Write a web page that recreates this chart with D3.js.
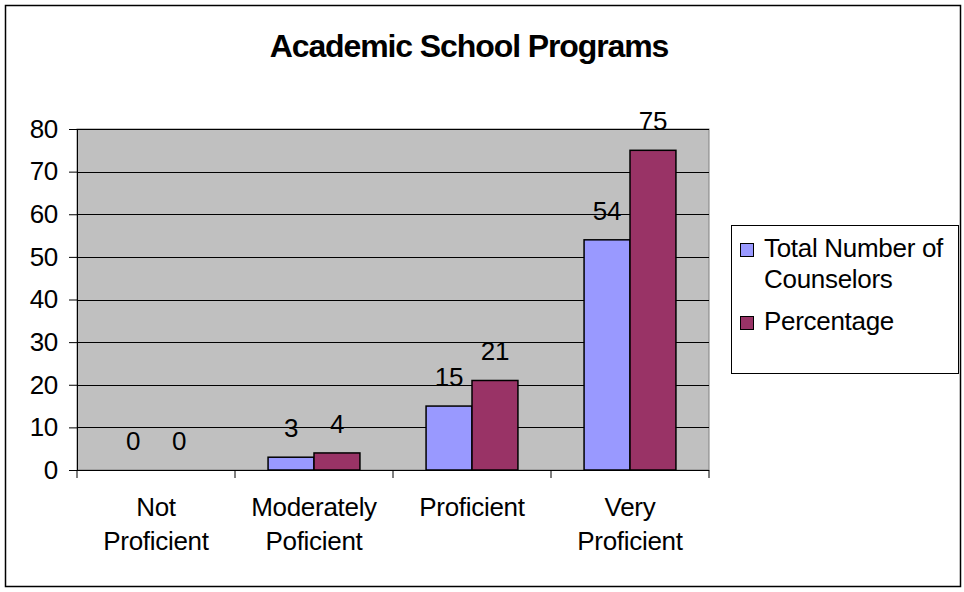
<!DOCTYPE html>
<html>
<head>
<meta charset="utf-8">
<script src="https://cdn.jsdelivr.net/npm/d3@7"></script>
<style>
  body { margin: 0; background: #fff; }
  text { font-family: "Liberation Sans", Arial, sans-serif; fill: #000; }
</style>
</head>
<body>
<svg id="chart" width="964" height="592"></svg>
<script>
const categories = [["Not", "Proficient"], ["Moderately", "Poficient"], ["Proficient"], ["Very", "Proficient"]];
const seriesNames = ["Total Number of Counselors", "Percentage"];
const counselors = [0, 3, 15, 54];
const percentage = [0, 4, 21, 75];
const yTicks = [0, 10, 20, 30, 40, 50, 60, 70, 80];
const colors = ["#9999FF", "#993366"];
const title = "Academic School Programs";

const svg = d3.select("#chart");
const FS = 26, LS = -0.3;

// outer border
svg.append("rect").attr("x", 5.5).attr("y", 5.5).attr("width", 955).attr("height", 581)
  .attr("fill", "#fff").attr("stroke", "#000").attr("stroke-width", 1.5);

const plot = { left: 77, right: 709, top: 129, bottom: 470 };
const catIdx = categories.map((d, i) => i);
const x = d3.scaleBand().domain(catIdx).range([plot.left, plot.right]).paddingInner(0).paddingOuter(0);
const x1 = d3.scaleBand().domain([0, 1]).range([0, x.bandwidth()]).paddingInner(0).paddingOuter(0.72);
const y = d3.scaleLinear().domain([0, 80]).range([plot.bottom, plot.top]);

// plot background
svg.append("rect").attr("x", plot.left).attr("y", plot.top)
  .attr("width", plot.right - plot.left).attr("height", plot.bottom - plot.top)
  .attr("fill", "#C0C0C0").attr("stroke", "#808080").attr("stroke-width", 1);

// gridlines
svg.append("g").selectAll("line").data(yTicks.filter(t => t > 0)).join("line")
  .attr("x1", plot.left).attr("x2", plot.right)
  .attr("y1", d => Math.round(y(d)) + 0.5).attr("y2", d => Math.round(y(d)) + 0.5)
  .attr("stroke", "#000").attr("stroke-width", 1);

// y axis
const yAxis = d3.axisLeft(y).tickValues(yTicks).tickSize(8).tickPadding(11);
const gy = svg.append("g").attr("transform", `translate(${plot.left},0)`).call(yAxis);
gy.select(".domain").attr("stroke", "#000");
gy.selectAll(".tick line").attr("stroke", "#000");
gy.selectAll(".tick text").attr("font-size", FS).attr("letter-spacing", LS)
  .style("font-family", '"Liberation Sans", Arial, sans-serif').attr("fill", "#000");

// x axis
const gx = svg.append("g").attr("transform", `translate(0,${plot.bottom})`);
gx.append("line").attr("x1", plot.left).attr("x2", plot.right).attr("y1", 0.5).attr("y2", 0.5).attr("stroke", "#000");
const boundaries = catIdx.map(i => x(i)).concat([plot.right]);
gx.selectAll("line.tk").data(boundaries).join("line").attr("class", "tk")
  .attr("x1", d => d).attr("x2", d => d).attr("y1", 0).attr("y2", 8).attr("stroke", "#000");

// category labels
const cl = svg.append("g").selectAll("text").data(catIdx).join("text")
  .attr("x", i => x(i) + x.bandwidth() / 2)
  .attr("text-anchor", "middle").attr("font-size", FS).attr("letter-spacing", LS);
cl.each(function(i) {
  const lines = categories[i];
  const t = d3.select(this);
  lines.forEach((ln, k) => {
    t.append("tspan").attr("x", x(i) + x.bandwidth() / 2)
      .attr("y", 516 + k * 34).text(ln);
  });
});

// bars
const series = [counselors, percentage];
series.forEach((vals, s) => {
  svg.append("g").selectAll("rect").data(vals).join("rect")
    .attr("x", (d, i) => x(i) + x1(s))
    .attr("y", d => y(d))
    .attr("width", x1.bandwidth())
    .attr("height", d => y(0) - y(d))
    .attr("fill", colors[s]).attr("stroke", d => d > 0 ? "#000" : "none").attr("stroke-width", 1.5);
  svg.append("g").selectAll("text").data(vals).join("text")
    .attr("x", (d, i) => x(i) + x1(s) + x1.bandwidth() / 2)
    .attr("y", d => y(d) - 20)
    .attr("text-anchor", "middle").attr("font-size", FS).attr("letter-spacing", LS)
    .text(d => d);
});

// title
svg.append("text").attr("x", 469).attr("y", 57).attr("text-anchor", "middle")
  .attr("font-size", 32).attr("font-weight", "bold").attr("letter-spacing", -1.1).text(title);

// legend
const lg = svg.append("g");
lg.append("rect").attr("x", 731.5).attr("y", 225.5).attr("width", 227).attr("height", 148)
  .attr("fill", "#fff").attr("stroke", "#000").attr("stroke-width", 1);
const legendRows = [{ lines: ["Total Number of", "Counselors"], y: 257 }, { lines: ["Percentage"], y: 330 }];
legendRows.forEach((r, s) => {
  lg.append("rect").attr("x", 740.5).attr("y", r.y - 13.5).attr("width", 13).attr("height", 13)
    .attr("fill", colors[s]).attr("stroke", "#000").attr("stroke-width", 1);
  const t = lg.append("text").attr("font-size", FS).attr("letter-spacing", LS);
  r.lines.forEach((ln, k) => t.append("tspan").attr("x", 764).attr("y", r.y + k * 31).text(ln));
});
</script>
</body>
</html>
